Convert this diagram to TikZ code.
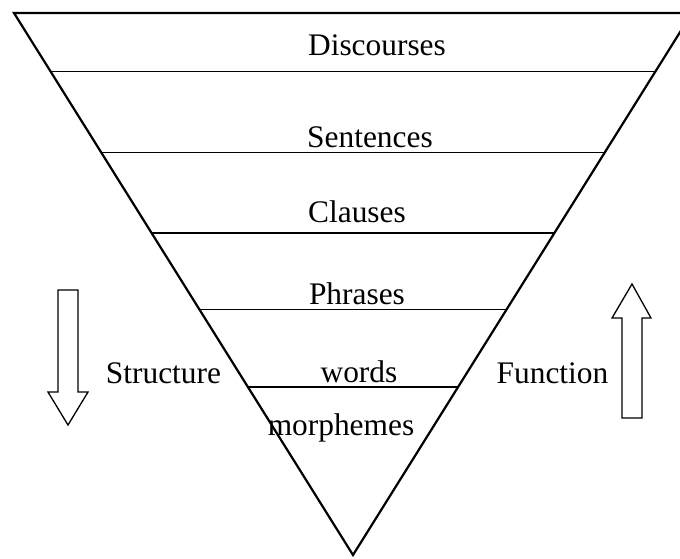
\documentclass[tikz,border=0pt]{standalone}
\usepackage{fontspec}
\setmainfont{Liberation Serif}
\usetikzlibrary{calc}
\begin{document}
\begin{tikzpicture}[x=1pt,y=-1pt,
  lbl/.style={anchor=base,inner sep=0pt,font=\fontsize{31.4}{36}\selectfont},
  edge/.style={line width=2.2pt},
  level/.style={line width=1.4pt},
  bigarrow/.style={line width=1.3pt,line join=miter}]
\useasboundingbox (0,0) rectangle (680,558);
\clip (0,0) rectangle (680,558);
\coordinate (tl) at (14,13);
\coordinate (tr) at (692,13);
\coordinate (ap) at (353,555);
% level lines
\foreach \t [count=\i] in {0.1079,0.2574,0.4059,0.5470,0.6900}{
  \coordinate (l\i) at ($(tl)!\t!(ap)$);
  \coordinate (r\i) at ($(tr)!\t!(ap)$);
  \draw[level] (l\i) -- (r\i);
}
\draw[edge,line join=miter] (tr) -- (tl) -- (ap) -- cycle;
% labels
\node[lbl] (disc) at (377,55) {Discourses};
\node[lbl] (sent) at (370,147) {Sentences};
\node[lbl] (clau) at (357,222) {Clauses};
\node[lbl] (phra) at (357,304) {Phrases};
\node[lbl] (word) at (359,382) {words};
\node[lbl] (morp) at (341,435) {morphemes};
\node[lbl] (stru) at (163.5,383) {Structure};
\node[lbl] (func) at (552.5,383) {Function};
% arrows
\draw[bigarrow] (58,290) -- (78,290) -- (78,392) -- (88,392) -- (68,425) -- (48,392) -- (58,392) -- cycle;
\draw[bigarrow] (622,418) -- (642,418) -- (642,318) -- (651,318) -- (632,284) -- (612,318) -- (622,318) -- cycle;
\end{tikzpicture}
\end{document}
